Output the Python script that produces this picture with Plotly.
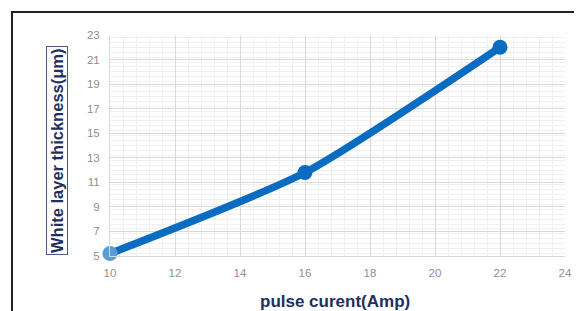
import plotly.graph_objects as go

pulse_current = [10, 16, 22]
white_layer = [5.2, 11.8, 22.0]
x_ticks = [10, 12, 14, 16, 18, 20, 22, 24]
y_ticks = [5, 7, 9, 11, 13, 15, 17, 19, 21, 23]

OFF = 8  # page body margin
L, R, T, B = 110 - OFF, 565 - OFF, 35 - OFF, 256 - OFF
W, H = 582 - OFF, 311 - OFF

fig = go.Figure()
fig.add_trace(go.Scatter(
    x=pulse_current, y=white_layer, mode="lines+markers",
    line=dict(color="#0A6CC0", width=7.5, shape="spline", smoothing=0.6),
    marker=dict(size=15, color=["#5B9BD5", "#0A6CC0", "#0A6CC0"]),
    cliponaxis=False, showlegend=False,
))

def px(v):
    return (v - OFF - L) / (R - L)

def py(v):
    return (B - (v - OFF)) / (B - T)

fig.update_layout(
    width=W, height=H,
    margin=dict(l=L, r=W - R, t=T, b=H - B, autoexpand=False),
    paper_bgcolor="white", plot_bgcolor="white",
    font=dict(family="Liberation Sans, Arial", color="#8f8f8f", size=11),
    xaxis=dict(range=[10, 24], tickvals=x_ticks, showgrid=True,
               gridcolor="#d9d9d9", gridwidth=1, zeroline=False, automargin=False,
               showline=True, linecolor="#d9d9d9", ticks="", ticklabelstandoff=6,
               minor=dict(dtick=0.4, showgrid=True, gridcolor="#f0f0f0", gridwidth=1),
               tickfont=dict(size=11.5, color="#8f8f8f")),
    yaxis=dict(range=[5, 23], tickvals=y_ticks, showgrid=True,
               gridcolor="#d9d9d9", gridwidth=1, zeroline=False, automargin=False,
               showline=True, linecolor="#d9d9d9", ticks="", ticklabelstandoff=7,
               minor=dict(dtick=0.4, showgrid=True, gridcolor="#f0f0f0", gridwidth=1),
               tickfont=dict(size=11.5, color="#8f8f8f")),
    shapes=[dict(type="rect", xref="paper", yref="paper",
                 x0=px(12), x1=px(581), y0=py(330), y1=py(12),
                 line=dict(color="#222222", width=2), fillcolor="rgba(0,0,0,0)", layer="above")],
    annotations=[
        dict(text="White layer thickness(μm)", xref="paper", yref="paper",
             x=px(57), y=py(151), xanchor="center", yanchor="middle",
             textangle=-90, showarrow=False,
             font=dict(family="Liberation Sans, Arial", size=16.5, color="#1F2F5F", weight="bold"),
             bordercolor="#4A5A8A", borderwidth=1, borderpad=1),
        dict(text="pulse curent(Amp)", xref="paper", yref="paper",
             x=px(335), y=py(301), xanchor="center", yanchor="middle", showarrow=False,
             font=dict(family="Liberation Sans, Arial", size=17, color="#1F2F5F", weight="bold")),
    ],
)

fig.write_html("out.html")
